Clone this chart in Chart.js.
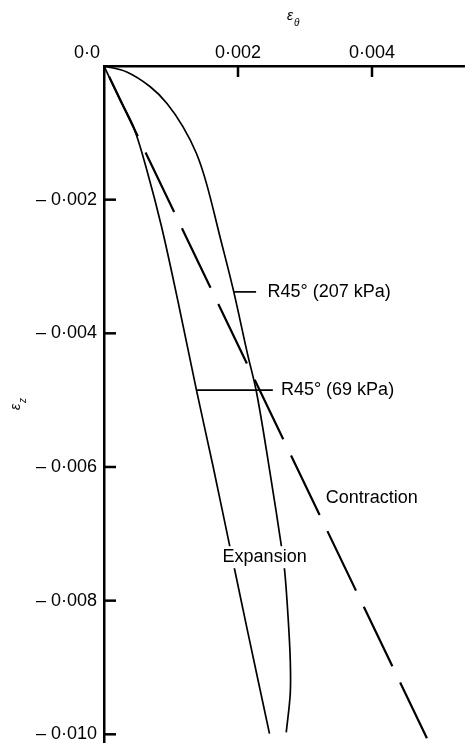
<!DOCTYPE html>
<html>
<head>
    <title>Strain paths</title>
    <script src="https://cdn.jsdelivr.net/npm/chart.js@4.4.0/dist/chart.umd.min.js"></script>
    <style>
        body {
            margin: 0;
            background: #FFFFFF;
        }
        #chart-div {
            width: 465px;
            height: 743px;
        }
    </style>
</head>
<body>
    <div id="chart-div"><canvas id="chart"></canvas></div>

<script type="text/javascript">
    // tick values
    const xTicks = [0.002, 0.004];
    const yTicks = [-0.002, -0.004, -0.006, -0.008, -0.010];

    // R45° (207 kPa) - outer curve, bulges to the right
    const r207X = [0, 0.00034, 0.00069, 0.00094, 0.00118, 0.00138, 0.00153, 0.00173, 0.00193, 0.00214, 0.00228, 0.00248, 0.00265, 0.00270, 0.00275, 0.00278, 0.00278, 0.00272];
    const r207Y = [0, -0.00009, -0.00031, -0.00056, -0.00091, -0.00131, -0.00176, -0.00255, -0.00335, -0.00430, -0.00490, -0.00610, -0.00720, -0.00759, -0.00829, -0.00889, -0.00939, -0.00997];

    // left curve (expansion side)
    const leftX = [0, 0.00024, 0.00044, 0.00064, 0.00086, 0.00111, 0.00138, 0.00163, 0.00188, 0.00215, 0.00247];
    const leftY = [0, -0.00051, -0.00091, -0.00156, -0.00241, -0.00355, -0.00485, -0.00600, -0.00720, -0.00849, -0.00999];

    // contraction, dashed straight line
    const contractionX = [0, 0.00482];
    const contractionY = [0, -0.01006];

    // label leader lines
    const lead207X = [0.00193, 0.00227];
    const lead207Y = [-0.00338, -0.00338];
    const lead69X = [0.00138, 0.00252];
    const lead69Y = [-0.00485, -0.00485];

    function pts(xs, ys) {
        return xs.map((x, i) => ({x: x, y: ys[i]}));
    }

    function fmt(v) {
        let s = Math.abs(v).toFixed(3).replace('.', '\u00B7');
        return v < 0 ? '\u2013 ' + s : s;
    }

    const FONT = '"Liberation Sans", Arial, sans-serif';

    const extras = {
        id: 'extras',
        afterDraw(chart) {
            const ctx = chart.ctx;
            const xs = chart.scales.x, ys = chart.scales.y;
            const area = chart.chartArea;
            ctx.save();
            ctx.strokeStyle = '#000';
            ctx.lineWidth = 2.5;
            // inward tick marks
            xTicks.forEach(v => {
                let px = xs.getPixelForValue(v);
                ctx.beginPath();
                ctx.moveTo(px, area.top);
                ctx.lineTo(px, area.top + 11);
                ctx.stroke();
            });
            yTicks.forEach(v => {
                let py = ys.getPixelForValue(v);
                ctx.beginPath();
                ctx.moveTo(area.left, py);
                ctx.lineTo(area.left + 12, py);
                ctx.stroke();
            });

            ctx.fillStyle = '#000';
            ctx.font = '18px ' + FONT;
            ctx.textBaseline = 'middle';
            ctx.textAlign = 'center';
            ctx.fillText('0\u00B70', area.left - 17, 53);

            // annotations
            ctx.textAlign = 'left';
            const labels = [
                ['R45\u00B0 (207 kPa)', 0.00244, -0.00338, false],
                ['R45\u00B0 (69 kPa)', 0.00264, -0.00485, false],
                ['Contraction', 0.00331, -0.00647, false],
                ['Expansion', 0.00177, -0.00735, true]
            ];
            labels.forEach(l => {
                let px = xs.getPixelForValue(l[1]);
                let py = ys.getPixelForValue(l[2]);
                if (l[3]) {
                    let w = ctx.measureText(l[0]).width;
                    ctx.fillStyle = '#fff';
                    ctx.fillRect(px - 3, py - 11, w + 6, 22);
                    ctx.fillStyle = '#000';
                }
                ctx.fillText(l[0], px, py);
            });

            // axis titles with subscripts
            ctx.font = 'italic 14px ' + FONT;
            ctx.fillText('\u03B5', 287, 16);
            ctx.font = 'italic 10px ' + FONT;
            ctx.fillText('\u03B8', 294, 23);

            ctx.translate(16, 410);
            ctx.rotate(-Math.PI / 2);
            ctx.font = 'italic 14px ' + FONT;
            ctx.fillText('\u03B5', 0, 0);
            ctx.font = 'italic 10px ' + FONT;
            ctx.fillText('z', 7, 7);
            ctx.restore();
        }
    };

    const solid = {borderColor: '#000', borderWidth: 1.7, pointRadius: 0, fill: false, showLine: true};

    let chart = new Chart(document.getElementById('chart').getContext('2d'), {
        type: 'scatter',
        data: {
            datasets: [
                Object.assign({label: 'R45 207', data: pts(r207X, r207Y), tension: 0.35}, solid),
                Object.assign({label: 'left', data: pts(leftX, leftY), tension: 0.35}, solid),
                Object.assign({label: 'lead207', data: pts(lead207X, lead207Y)}, solid),
                Object.assign({label: 'lead69', data: pts(lead69X, lead69Y)}, solid),
                {
                    label: 'Contraction',
                    data: pts(contractionX, contractionY),
                    showLine: true,
                    borderColor: '#000',
                    borderWidth: 2.2,
                    borderDash: [66, 18],
                    borderDashOffset: -12,
                    pointRadius: 0
                }
            ]
        },
        options: {
            responsive: true,
            maintainAspectRatio: false,
            animation: false,
            layout: {padding: 0},
            plugins: {legend: {display: false}, tooltip: {enabled: false}},
            scales: {
                x: {
                    type: 'linear',
                    position: 'top',
                    min: 0,
                    max: 0.005388,
                    afterBuildTicks: s => { s.ticks = xTicks.map(v => ({value: v})); },
                    afterFit: s => { s.height = 66; s.paddingLeft = 0; s.paddingRight = 0; },
                    grid: {display: false, drawTicks: false},
                    border: {display: true, color: '#000', width: 2.5},
                    ticks: {
                        color: '#000',
                        font: {size: 18, family: FONT},
                        padding: 2,
                        maxRotation: 0,
                        callback: v => fmt(v)
                    }
                },
                y: {
                    type: 'linear',
                    min: -0.01013,
                    max: 0,
                    afterBuildTicks: s => { s.ticks = yTicks.map(v => ({value: v})); },
                    afterFit: s => { s.width = 104; s.paddingTop = 0; s.paddingBottom = 0; },
                    grid: {display: false, drawTicks: false},
                    border: {display: true, color: '#000', width: 2.5},
                    ticks: {
                        color: '#000',
                        font: {size: 18, family: FONT},
                        padding: 7,
                        callback: v => fmt(v)
                    }
                }
            }
        },
        plugins: [extras]
    });
</script>

</body>
</html>
